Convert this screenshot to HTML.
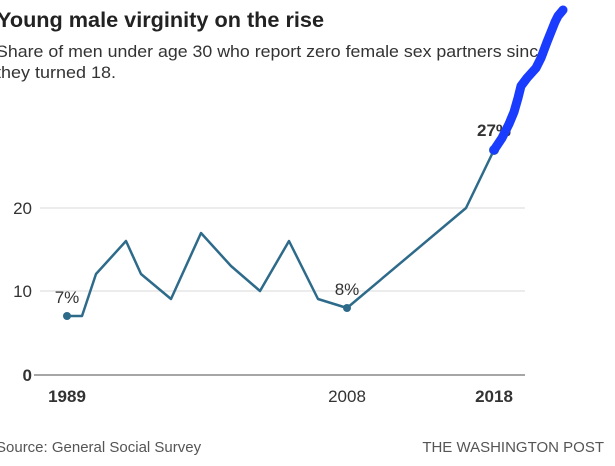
<!DOCTYPE html>
<html><head><meta charset="utf-8"><style>
html,body{margin:0;padding:0;background:#fff;}
body{width:615px;height:466px;overflow:hidden;position:relative;font-family:"Liberation Sans",sans-serif;}
</style></head><body>
<svg width="615" height="466" viewBox="0 0 615 466" xmlns="http://www.w3.org/2000/svg" style="position:absolute;left:0;top:0">
<text x="-3" y="27" font-size="21" font-weight="bold" fill="#222" textLength="327" lengthAdjust="spacingAndGlyphs" font-family="Liberation Sans, sans-serif">Young male virginity on the rise</text>
<text x="-4" y="57" font-size="17" fill="#333" textLength="552" lengthAdjust="spacingAndGlyphs" font-family="Liberation Sans, sans-serif">Share of men under age 30 who report zero female sex partners since</text>
<text x="-4" y="78" font-size="17" fill="#333" textLength="120" lengthAdjust="spacingAndGlyphs" font-family="Liberation Sans, sans-serif">they turned 18.</text>
<line x1="40" y1="208" x2="525" y2="208" stroke="#d8d8d8" stroke-width="1"/>
<line x1="40" y1="291" x2="525" y2="291" stroke="#d8d8d8" stroke-width="1"/>
<line x1="34" y1="375" x2="525" y2="375" stroke="#888" stroke-width="1.5"/>
<g font-family="Liberation Sans, sans-serif" font-size="17" fill="#333">
<text x="32" y="214" text-anchor="end">20</text>
<text x="32" y="297" text-anchor="end">10</text>
<text x="32" y="381" text-anchor="end" font-weight="bold">0</text>
<text x="67" y="402" text-anchor="middle" font-weight="bold">1989</text>
<text x="347" y="402" text-anchor="middle">2008</text>
<text x="494" y="402" text-anchor="middle" font-weight="bold">2018</text>
<text x="67" y="303" text-anchor="middle">7%</text>
<text x="347" y="295" text-anchor="middle">8%</text>
<text x="494" y="136" text-anchor="middle" font-weight="bold">27%</text>
<text x="-4" y="452" font-size="15" fill="#555">Source: General Social Survey</text>
<text x="604" y="452" font-size="15" fill="#555" text-anchor="end">THE WASHINGTON POST</text>
</g>
<polyline fill="none" stroke="#2e6b8a" stroke-width="2.5" stroke-linejoin="round" points="67,316 82,316 96,274 126,241 141,274 171,299 201,233 231,266 260,291 289,241 318,299 347,308 466,208 494,150"/>
<circle cx="67" cy="316" r="4" fill="#2e6b8a"/>
<circle cx="347" cy="308" r="4" fill="#2e6b8a"/>
<circle cx="494" cy="150" r="4" fill="#fff" stroke="#2e6b8a" stroke-width="2"/>
<polyline fill="none" stroke="#1a3cff" stroke-width="9" stroke-linecap="round" stroke-linejoin="round" points="494,150 502,138 509,124 514,112 518,98 521,86 527,78 536,68 541,58 544,50 547,42 551,32 555,22 558,16 563,10"/>
</svg>
</body></html>
